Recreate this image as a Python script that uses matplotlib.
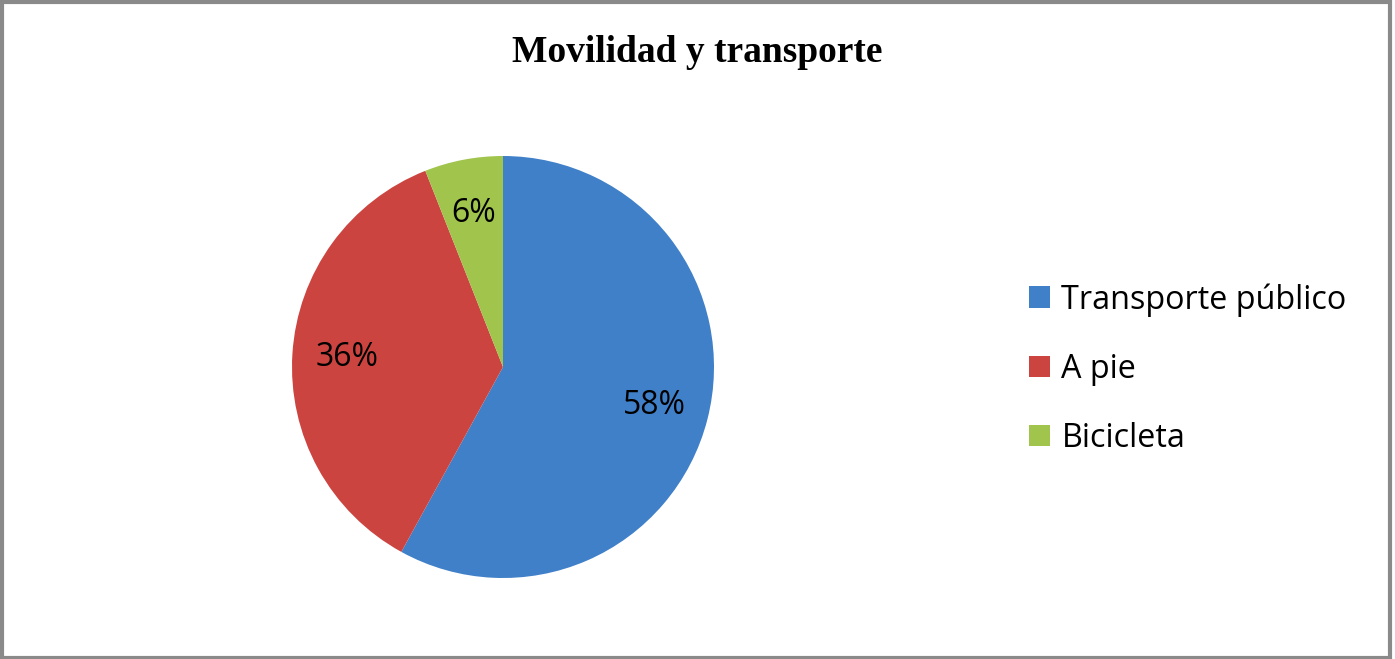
import matplotlib.pyplot as plt
from matplotlib.patches import Rectangle

categorias = ["Transporte público", "A pie", "Bicicleta"]
valores = [58, 36, 6]
colores = ["#4080c8", "#cc4440", "#a0c44c"]
titulo = "Movilidad y transporte"

fig = plt.figure(figsize=(13.95, 6.59), dpi=100)

# pie centre ~ (503, 367) px, radius ~ 211 px
ax = fig.add_axes([(503 - 211) / 1395, (659 - 367 - 211) / 659, 422 / 1395, 422 / 659])
cunas, textos, porcentajes = ax.pie(
    valores, colors=colores, startangle=90, counterclock=False,
    autopct="%d%%", pctdistance=0.74,
    wedgeprops=dict(edgecolor="white", linewidth=0),
    textprops=dict(fontsize=23, family="Open Sans", color="black"),
)
ax.set_xlim(-1, 1)
ax.set_ylim(-1, 1)
ax.set_aspect("equal")

# legend
leg = fig.legend(cunas, categorias, loc="center left", bbox_to_anchor=(1000 / 1395, 1 - 369 / 659),
                 frameon=False, prop=dict(family="Open Sans", size=23.3),
                 handlelength=0.65, handleheight=0.65, handletextpad=0.35, labelspacing=1.12)

fig.text(697 / 1395, 1 - 53 / 659, titulo, ha="center", va="center",
         fontsize=27, fontweight="bold", family="Liberation Serif")

# grey frame around the chart
fig.patches.append(Rectangle((0.0015, 0.002), 0.995, 0.995, transform=fig.transFigure,
                             fill=False, edgecolor="#8a8a8a", linewidth=3))

fig.savefig("out.png", dpi=100)
